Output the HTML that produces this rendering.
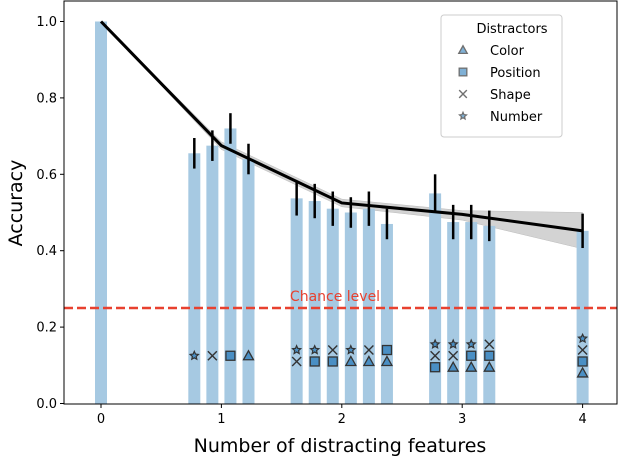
<!DOCTYPE html>
<html><head><meta charset="utf-8"><style>
html,body{margin:0;padding:0;background:#fff;}
svg{display:block;font-family:"DejaVu Sans","Liberation Sans",sans-serif;}
</style></head><body>
<svg id="chart" width="620" height="460" viewBox="0 0 620 460">
<g id="plot"></g>
</svg>
<script>
const groups = [0, 1, 2, 3, 4];
const barX = [0, 0.775, 0.925, 1.075, 1.225, 1.625, 1.775, 1.925, 2.075, 2.225, 2.375, 2.775, 2.925, 3.075, 3.225, 4];
const barAcc = [1.0, 0.655, 0.675, 0.72, 0.64, 0.537, 0.53, 0.51, 0.50, 0.51, 0.47, 0.55, 0.475, 0.475, 0.465, 0.452];
const barErr = [0, 0.04, 0.04, 0.04, 0.04, 0.045, 0.045, 0.045, 0.04, 0.045, 0.04, 0.05, 0.045, 0.045, 0.04, 0.045];
const barMarkers = [[], ["star"], ["x"], ["square"], ["triangle"],
  ["star","x"], ["star","square"], ["x","square"], ["star","triangle"], ["x","triangle"], ["square","triangle"],
  ["star","x","square"], ["star","x","triangle"], ["star","square","triangle"], ["x","square","triangle"],
  ["star","x","square","triangle"]];
const meanAcc = [1.0, 0.675, 0.525, 0.495, 0.452];
const bandLo = [1.0, 0.665, 0.515, 0.48, 0.405];
const bandHi = [1.0, 0.685, 0.535, 0.505, 0.50];
const yTicks = [0.0, 0.2, 0.4, 0.6, 0.8, 1.0];
const xTicks = [0, 1, 2, 3, 4];
const chance = 0.25;
const legendItems = [["triangle","Color"],["square","Position"],["x","Shape"],["star","Number"]];

const NS = "http://www.w3.org/2000/svg";
const g = document.getElementById("plot");
const L = 64, R = 617, T = 1, B = 404;
const sx = v => 101 + v * 120.4;
const sy = v => 403.5 - v * 382;
function mk(tag, attrs, parent) {
  const e = document.createElementNS(NS, tag);
  for (const k in attrs) e.setAttribute(k, attrs[k]);
  (parent || g).appendChild(e);
  return e;
}
// band
let pts = groups.map((x,i)=>sx(x)+","+sy(bandHi[i])).concat(groups.slice().reverse().map((x,j)=>{const i=groups.length-1-j;return sx(x)+","+sy(bandLo[i]);}));
const band = mk("polygon",{points:pts.join(" "),fill:"#c8c8c8","fill-opacity":"0.8",stroke:"#bbb","stroke-width":"0.5"});


// bars
barX.forEach((x,i)=>{
  const r = mk("rect",{x:sx(x)-6,y:sy(barAcc[i]),width:12,height:sy(0)-sy(barAcc[i]),fill:"#a6c9e2"});
  
  
});
// chance line
const ch = mk("line",{x1:L,x2:R,y1:sy(chance),y2:sy(chance),stroke:"#e8412f","stroke-width":2.5,"stroke-dasharray":"9,4"});


const ct = mk("text",{x:335,y:sy(chance)-7,fill:"#e8412f","font-size":14,"text-anchor":"middle"});
ct.textContent = "Chance level";


// mean line
const ml = mk("polyline",{points:groups.map((x,i)=>sx(x)+","+sy(meanAcc[i])).join(" "),fill:"none",stroke:"#000","stroke-width":3});


// error bars
barX.forEach((x,i)=>{
  if (!barErr[i]) return;
  const e = mk("line",{x1:sx(x),x2:sx(x),y1:sy(barAcc[i]+barErr[i]),y2:sy(barAcc[i]-barErr[i]),stroke:"#000","stroke-width":2.5});
  
  
});
function marker(type, cx, cy, parent, s) {
  s = s || 1;
  const st = {stroke:"#333","stroke-width":1.3,fill:"#4a8fc4"};
  let e;
  if (type==="triangle") e = mk("polygon",Object.assign({points:`${cx},${cy-5*s} ${cx-5*s},${cy+4*s} ${cx+5*s},${cy+4*s}`},st),parent);
  else if (type==="square") e = mk("rect",Object.assign({x:cx-4.5*s,y:cy-4.5*s,width:9*s,height:9*s},st),parent);
  else if (type==="x") e = mk("path",{d:`M${cx-4.5*s},${cy-4.5*s}L${cx+4.5*s},${cy+4.5*s}M${cx+4.5*s},${cy-4.5*s}L${cx-4.5*s},${cy+4.5*s}`,stroke:"#333","stroke-width":1.4,fill:"none"},parent);
  else {
    let p=[];for(let k=0;k<10;k++){const a=-Math.PI/2+k*Math.PI/5;const rr=(k%2?2:4.3)*s;p.push((cx+rr*Math.cos(a)).toFixed(1)+","+(cy+rr*Math.sin(a)).toFixed(1));}
    e = mk("polygon",Object.assign({points:p.join(" ")},st,{"stroke-width":1.2}),parent);
  }
  return e;
}
barMarkers.forEach((ms,i)=>{
  const n = ms.length;
  ms.forEach((m,j)=>{
    const v = 0.125 + 0.015*(n-1) - 0.03*j;
    const e = marker(m, sx(barX[i]), sy(v));
    
    
  });
});
// axes frame
const fr = mk("rect",{x:L,y:T,width:R-L,height:B-T,fill:"none",stroke:"#000","stroke-width":1});


yTicks.forEach(v=>{
  mk("line",{x1:L-4,x2:L,y1:sy(v),y2:sy(v),stroke:"#000"});
  const t = mk("text",{x:L-7,y:sy(v)+4.5,"font-size":13,"text-anchor":"end"});
  t.textContent = v.toFixed(1);
  
  
});
xTicks.forEach(v=>{
  mk("line",{x1:sx(v),x2:sx(v),y1:B,y2:B+4,stroke:"#000"});
  const t = mk("text",{x:sx(v),y:B+19,"font-size":13,"text-anchor":"middle"});
  t.textContent = v;
  
  
});
const xt = mk("text",{x:340,y:452,"font-size":19,"text-anchor":"middle"});
xt.textContent = "Number of distracting features";


const yt = mk("text",{x:22,y:203,"font-size":19,"text-anchor":"middle",transform:"rotate(-90 22 203)"});
yt.textContent = "Accuracy";


// legend
const lg = mk("g",{});


mk("rect",{x:441,y:15,width:121,height:122,rx:3,fill:"#fff","fill-opacity":0.85,stroke:"#ccc"},lg);
const lt = mk("text",{x:512,y:33,"font-size":13,"text-anchor":"middle"},lg);
lt.textContent = "Distractors";
legendItems.forEach((it,i)=>{
  const y = 50 + 22*i;
  const m = marker(it[0], 463, y, lg, 0.85);
  m.setAttribute('opacity', 0.7);
  const t = mk("text",{x:490,y:y+5,"font-size":13},lg);
  t.textContent = it[1];
  
  
});
</script>
</body></html>
